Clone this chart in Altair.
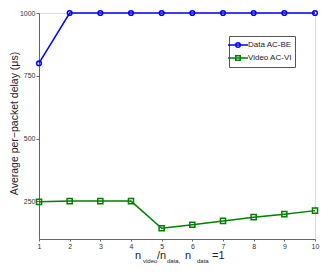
import altair as alt
import pandas as pd

x_vals = [1, 2, 3, 4, 5, 6, 7, 8, 9, 10]
data_be = [800, 1000, 1000, 1000, 1000, 1000, 1000, 1000, 1000, 1000]
video_vi = [248, 251, 251, 251, 143, 157, 172, 187, 199, 213]
series_names = ["Data AC-BE", "Video AC-VI"]
colors = ["#0000ff", "#008000"]
y_ticks = [250, 500, 750, 1000]

df = pd.DataFrame({
    "x": x_vals * 2,
    "y": data_be + video_vi,
    "series": [series_names[0]] * len(x_vals) + [series_names[1]] * len(x_vals),
})

W, H = 276, 226
FONT = "Liberation Sans"

xs = alt.X("x:Q", scale=alt.Scale(domain=[1, 10], nice=False),
           axis=alt.Axis(values=x_vals, title=None, labelFontSize=7, labelColor="#333",
                         tickSize=2, tickColor="#666", domainColor="#666", grid=False,
                         labelPadding=1, labelFlush=False, labelOverlap=False))
ys = alt.Y("y:Q", scale=alt.Scale(domain=[100, 1000], nice=False, zero=False),
           axis=alt.Axis(values=y_ticks, format="d", title="Average per\u2212packet delay (\u03bcs)",
                         titleFontSize=10.5, titleFontWeight="normal", titleColor="#222",
                         titleX=-25, titleY=H / 2 - 3, titleAngle=-90, titleAlign="center",
                         titleBaseline="middle",
                         labelFontSize=7, labelColor="#333", tickSize=3, tickColor="#666",
                         domainColor="#666", grid=False, labelPadding=1,
                         labelFlush=False, labelOverlap=False))
cscale = alt.Scale(domain=series_names, range=colors)
color = alt.Color("series:N", scale=cscale, legend=None)

lines = alt.Chart(df).mark_line(strokeWidth=1.5).encode(x=xs, y=ys, color=color)

circ = alt.Chart(df).transform_filter(alt.datum.series == series_names[0]).mark_point(
    shape="circle", filled=False, size=22, strokeWidth=1.5, opacity=1).encode(
    x=xs, y=ys, color=color)
sq = alt.Chart(df).transform_filter(alt.datum.series == series_names[1]).mark_point(
    shape="square", filled=False, size=26, strokeWidth=1.5, opacity=1).encode(
    x=xs, y=ys, color=color)

legend_paths = [
    "M-2,0L2,0M-0.45,0A0.45,0.45 0 1,0 0.45,0A0.45,0.45 0 1,0 -0.45,0",
    "M-2,0L2,0M-0.45,-0.45L0.45,-0.45L0.45,0.45L-0.45,0.45Z",
]
leg = alt.Chart(df).transform_filter("datum.x > 100").mark_point(
    filled=False, strokeWidth=1.5, opacity=1).encode(
    x=xs, y=ys,
    color=alt.Color("series:N", scale=cscale,
                    legend=alt.Legend(title=None, orient="none", legendX=190, legendY=23,
                                      labelFontSize=8, labelColor="#222", symbolSize=100,
                                      symbolStrokeWidth=1.5, strokeColor="#555", fillColor="white",
                                      padding=3, rowPadding=1, labelOffset=4)),
    shape=alt.Shape("series:N", scale=alt.Scale(domain=series_names, range=legend_paths)),
)

one = pd.DataFrame({"t": [0]})
pieces = [
    ("n", 96, 246, 11),
    ("video", 104, 250, 6),
    ("/n", 118, 246, 11),
    ("data,", 128, 250, 6),
    ("n", 146, 246, 11),
    ("data", 158, 250, 6),
    ("=1", 173, 246, 11),
]
texts = [alt.Chart(one).mark_text(align="left", baseline="alphabetic", font=FONT, fontSize=fs,
                                  color="#222").encode(x=alt.value(px), y=alt.value(py), text=alt.value(t))
         for t, px, py, fs in pieces]

chart = alt.layer(lines, circ, sq, leg, *texts).resolve_legend(
    color="independent", shape="independent").properties(
    width=W, height=H, padding={"left": 31, "top": 5, "right": 9, "bottom": 25},
    autosize=alt.AutoSizeParams(type="none"),
).configure_view(stroke="#666", strokeWidth=1).configure(font=FONT)

chart.save("out.html", embed_options={"renderer": "svg", "actions": False})
